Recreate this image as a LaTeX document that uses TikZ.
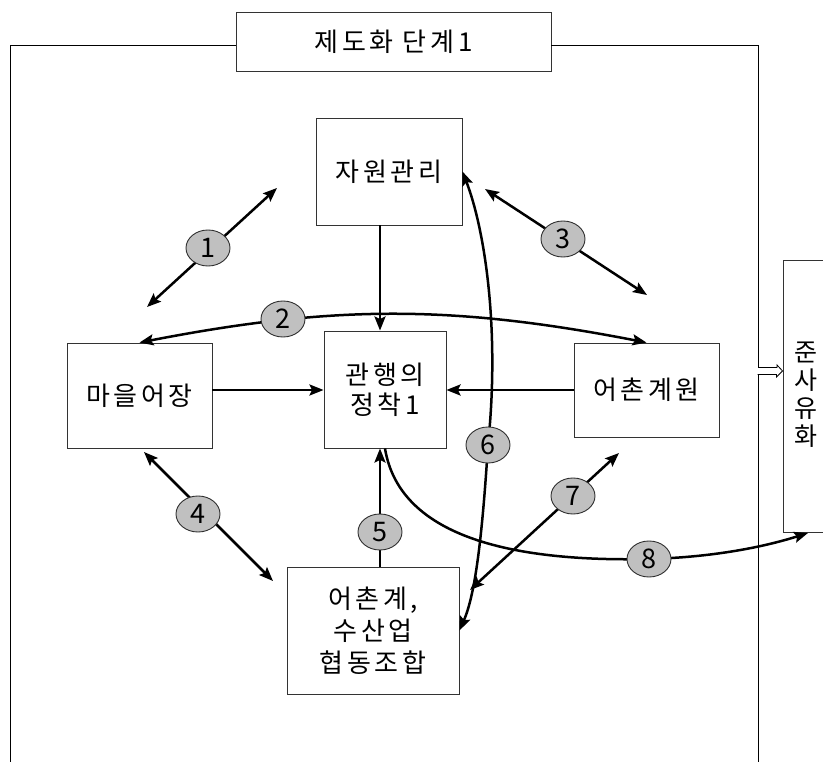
\documentclass[tikz,border=0pt]{standalone}
\usepackage{fontspec}
\newfontfamily\kr[LetterSpace=14]{Noto Sans CJK KR}
\newfontfamily\krplain{Noto Sans CJK KR}
\usetikzlibrary{arrows.meta,shapes.geometric}
\definecolor{boxc}{HTML}{333333}
\definecolor{numfill}{HTML}{C0C0C0}
\definecolor{numc}{HTML}{303030}
\begin{document}
\begin{tikzpicture}[x=1pt,y=-1pt,
  box/.style={draw=boxc, line width=0.9pt, fill=white, inner sep=0pt,
    font=\kr\fontsize{26}{32}\selectfont, align=center},
  frameline/.style={draw=black, line width=0.9pt},
  arr/.style={line width=2.5pt, -{Stealth[length=14pt,width=11pt,inset=2.5pt]}},
  darr/.style={line width=2.5pt, {Stealth[length=14pt,width=11pt,inset=2.5pt]}-{Stealth[length=14pt,width=11pt,inset=2.5pt]}},
  num/.style={ellipse, draw=numc, fill=numfill, line width=0.9pt,
    minimum width=44pt, minimum height=36pt, inner sep=0pt,
    font=\krplain\fontsize{27}{27}\selectfont}]
\useasboundingbox (0,0) rectangle (823,762);
\clip (0,0) rectangle (823,762);

% frame
\node[box, minimum width=315pt, minimum height=59pt] (title) at (393.5,41.5) {제도화 단계1};
\coordinate (ftl) at (10,45);
\coordinate (fbl) at (10,770);
\coordinate (ftr) at (758,45);
\coordinate (fbr) at (758,770);
\draw[frameline] (title.west |- ftl) -- (ftl) -- (fbl);
\draw[frameline] (title.east |- ftr) -- (ftr) -- (fbr);

% boxes
\node[box, minimum width=146pt, minimum height=107pt] (jw) at (389,171.5) {자원관리};
\node[box, minimum width=122pt, minimum height=117pt, font=\kr\fontsize{26}{30}\selectfont] (kw) at (385,389.5) {관행의\\정착1};
\node[box, minimum width=145pt, minimum height=105pt] (maul) at (139.5,395.5) {마을어장};
\node[box, minimum width=145pt, minimum height=94pt] (eoc) at (646.5,390) {어촌계원};
\node[box, minimum width=172pt, minimum height=127pt] (eo) at (373,630.5) {어촌계,\\수산업\\협동조합};
\node[box, minimum width=120pt, minimum height=272pt] (jun) at (843,396) {};
\node[font=\krplain\fontsize{25}{28}\selectfont, align=center, inner sep=0pt] (juntext) at (806,395) {준\\사\\유\\화};

% hollow arrow from frame to box
\coordinate (ha) at (758,371);
\draw[line width=0.8pt, fill=white] (ha) ++(0,-3.5) -- ++(19,0) -- ++(0,-2.5) -- (jun.west |- ha) -- ++(-6,6) -- ++(0,-2.5) -- ++(-19,0);

% free ends
\coordinate (a1s) at (147,307);
\coordinate (a1e) at (277,188);
\coordinate (a3s) at (485,189);
\coordinate (a3e) at (647,295);
\coordinate (a4s) at (144,452);
\coordinate (a4e) at (273,581);
\coordinate (a7s) at (470,590);
\coordinate (a7e) at (619,453);
\coordinate (a8e) at (808,533);

% numbered circle positions
\coordinate (n1) at (208,248);
\coordinate (n2) at (283,319);
\coordinate (n3) at (563,239);
\coordinate (n4) at (198,514);
\coordinate (n5) at (380,532);
\coordinate (n6) at (488,445);
\coordinate (n7) at (573,496);
\coordinate (n8) at (649,559);

% straight arrows
\draw[arr] (jw.south -| n5) -- (kw.north -| n5);
\draw[arr] (maul.east |- 0,390) -- (kw.west |- 0,390);
\draw[arr] (eoc.west |- 0,390) -- (kw.east |- 0,390);
\draw[arr] (eo.north -| n5) -- (kw.south -| n5);
\draw[darr] (a1s) -- (a1e);
\draw[darr] (a3s) -- (a3e);
\draw[darr] (a4s) -- (a4e);
\draw[darr] (a7s) -- (a7e);
% curved arrows
\draw[darr] (maul.north) to[bend left=11] (eoc.north);
\draw[darr] (jw.east) .. controls (485,230) and (500,330) .. (n6) .. controls (482,540) and (475,595) .. (eo.east);
\draw[arr] (kw.south) .. controls (400,540) and (520,562) .. (n8) .. controls (720,557) and (770,545) .. (a8e);

% circles on top
\foreach \n/\t in {n1/1,n2/2,n3/3,n4/4,n5/5,n6/6,n7/7,n8/8}{
  \node[num] (c\t) at (\n) {\t};
}
\end{tikzpicture}
\end{document}
